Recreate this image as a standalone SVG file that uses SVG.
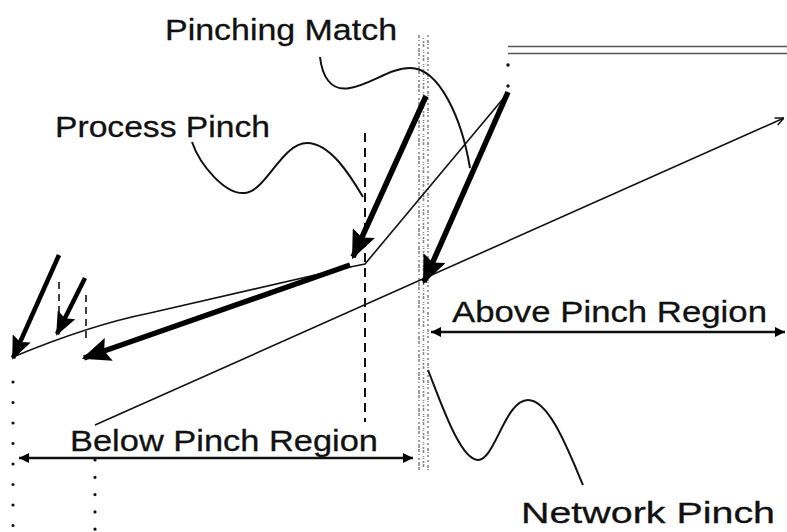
<svg xmlns="http://www.w3.org/2000/svg" width="787" height="532" viewBox="0 0 787 532">
<style>
.lbl{font-family:"Liberation Sans",Arial,sans-serif;font-size:30px;fill:#111;stroke:#111;stroke-width:0.3}
.thin{fill:none;stroke:#111;stroke-width:1.6}
.thick{fill:none;stroke:#000;stroke-width:5.5}
.mid{fill:none;stroke:#000;stroke-width:4.5}
.dash{fill:none;stroke:#111;stroke-width:2;stroke-dasharray:9 6}
.sdash{fill:none;stroke:#111;stroke-width:1.6;stroke-dasharray:7 5}
.dots{fill:none;stroke:#111;stroke-width:3.2;stroke-linecap:round}
.dim{fill:none;stroke:#111;stroke-width:2.5}
.lead{fill:none;stroke:#111;stroke-width:2}
.noise{fill:none;stroke:#888;stroke-width:1.6}
</style>
<defs>
<marker id="ah" viewBox="0 0 12 10" refX="11" refY="5" markerWidth="5.2" markerHeight="4.4" orient="auto" markerUnits="strokeWidth" preserveAspectRatio="none">
<path d="M0,0 L12,5 L0,10 L2,5 z" fill="#000"/>
</marker>
<marker id="dh" viewBox="0 0 10 10" refX="10" refY="5" markerWidth="5" markerHeight="4" orient="auto-start-reverse" markerUnits="strokeWidth">
<path d="M0,0 L10,5 L0,10 z" fill="#000"/>
</marker>
<marker id="oh" viewBox="0 0 10 10" refX="10" refY="5" markerWidth="6" markerHeight="6" orient="auto" markerUnits="strokeWidth">
<path d="M1,1 L10,5 L1,9" fill="none" stroke="#111" stroke-width="1.5"/>
</marker>
</defs>

<g id="network-pinch-column">
<line class="noise" x1="419" y1="35" x2="419" y2="470" stroke-dasharray="3 2 1 3 2 2 4 1"/>
<line class="noise" x1="423.5" y1="38" x2="423.5" y2="468" stroke-dasharray="1 2 2 1 3 3 1 1"/>
<line class="noise" x1="428" y1="35" x2="428" y2="470" stroke-dasharray="2 3 3 1 1 2 2 3"/>
</g>

<g id="guides">
<line class="dash" x1="365" y1="133" x2="365" y2="422"/>
<line class="sdash" x1="59" y1="282" x2="59" y2="333"/>
<line class="sdash" x1="86" y1="295" x2="86" y2="343"/>
<line class="dots" x1="13" y1="382" x2="13" y2="528" stroke-dasharray="0 20.5"/>
<line class="dots" x1="95" y1="460" x2="95" y2="530" stroke-dasharray="0 17.3"/>
<circle cx="508" cy="65" r="1.7" fill="#111"/>
<circle cx="508" cy="86" r="1.7" fill="#111"/>
<line x1="508" y1="46.5" x2="787" y2="46.5" stroke="#555" stroke-width="1.6"/>
<line x1="508" y1="53.5" x2="787" y2="53.5" stroke="#555" stroke-width="1.6"/>
</g>

<g id="connectors">
<path id="hot-composite" class="thin" d="M13,357 Q90,325 150,313 L350,267 L365,264 L507,94"/>
<line id="cold-composite" class="thin" x1="95" y1="425" x2="784" y2="118" marker-end="url(#oh)"/>
<line class="thick" x1="426" y1="96" x2="353" y2="257" marker-end="url(#ah)"/>
<line class="thick" x1="508" y1="92" x2="424" y2="282" marker-end="url(#ah)"/>
<line class="thick" x1="350" y1="265" x2="84" y2="358" marker-end="url(#ah)"/>
<line class="mid" x1="59" y1="255" x2="13" y2="358" marker-end="url(#ah)"/>
<line class="mid" x1="85" y1="278" x2="57" y2="334" marker-end="url(#ah)"/>
<line class="dim" x1="431" y1="332" x2="785" y2="332" marker-start="url(#dh)" marker-end="url(#dh)"/>
<line class="dim" x1="19" y1="458" x2="413" y2="458" marker-start="url(#dh)" marker-end="url(#dh)"/>
<path class="lead" d="M320,57 C322,75 330,92 350,88 C372,84 390,68 410,68 C440,68 462,120 470,168"/>
<path class="lead" d="M192,142 C200,165 225,195 245,193 C266,191 282,143 307,143 C330,143 350,175 363,197"/>
<path class="lead" d="M428,370 C440,400 460,460 478,460 C495,460 505,400 528,400 C550,400 570,455 583,485"/>
</g>

<g id="label-pinching-match"><text class="lbl" x="165" y="40" textLength="232" lengthAdjust="spacingAndGlyphs">Pinching Match</text></g>
<g id="label-process-pinch"><text class="lbl" x="55" y="137" textLength="215" lengthAdjust="spacingAndGlyphs">Process Pinch</text></g>
<g id="label-above"><text class="lbl" x="452" y="322" textLength="315" lengthAdjust="spacingAndGlyphs">Above Pinch Region</text></g>
<g id="label-below"><text class="lbl" x="70" y="451" textLength="308" lengthAdjust="spacingAndGlyphs">Below Pinch Region</text></g>
<g id="label-network-pinch"><text class="lbl" x="521" y="523" textLength="254" lengthAdjust="spacingAndGlyphs">Network Pinch</text></g>
</svg>
